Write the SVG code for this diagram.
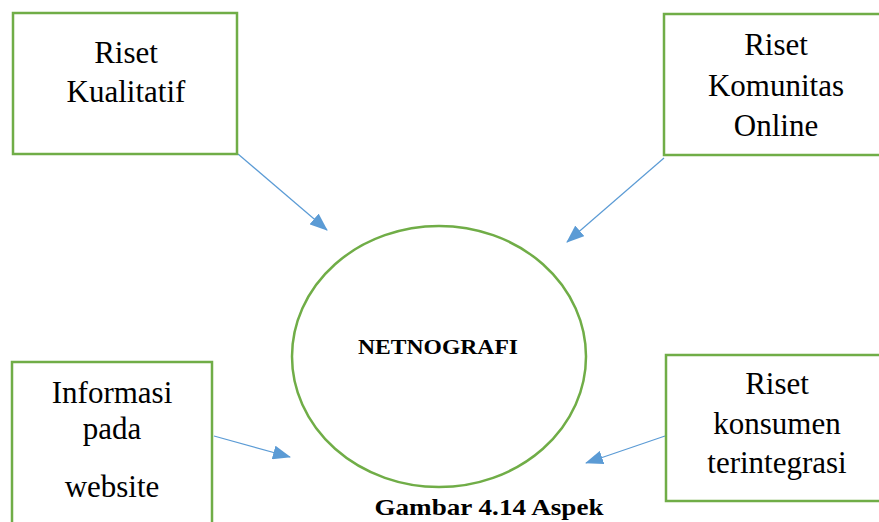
<svg xmlns="http://www.w3.org/2000/svg" width="879" height="522" viewBox="0 0 879 522">
<style>
.box{fill:#fff;stroke:#70AD47;stroke-width:2.5}
.conn{stroke:#5B9BD5;stroke-width:1.2;fill:none;marker-end:url(#ah)}
</style>
<defs>
<marker id="ah" markerUnits="userSpaceOnUse" markerWidth="18" markerHeight="14" viewBox="0 0 18 14" refX="17" refY="7" orient="auto">
<path d="M0,0 L18,7 L0,14 Z" fill="#5B9BD5"/>
</marker>
</defs>
<rect width="879" height="522" fill="#fff"/>
<g id="connectors">
<line class="conn" x1="238" y1="154" x2="327" y2="230"/>
<line class="conn" x1="664" y1="158" x2="567" y2="242"/>
<line class="conn" x1="214" y1="436" x2="290" y2="457"/>
<line class="conn" x1="665" y1="436" x2="586" y2="463"/>
</g>
<g font-family="Liberation Serif, Times New Roman, serif" font-size="31" fill="#000" text-anchor="middle">
<g id="riset-kualitatif">
<rect class="box" x="13" y="13" width="224" height="141"/>
<text x="126" y="63">Riset</text>
<text x="126" y="102">Kualitatif</text>
</g>
<g id="riset-komunitas-online">
<rect class="box" x="664" y="14" width="226" height="141"/>
<text x="776" y="55">Riset</text>
<text x="776" y="96">Komunitas</text>
<text x="776" y="136">Online</text>
</g>
<g id="informasi-website">
<rect class="box" x="12" y="362" width="200" height="180"/>
<text x="112" y="403">Informasi</text>
<text x="112" y="439">pada</text>
<text x="112" y="497">website</text>
</g>
<g id="riset-konsumen">
<rect class="box" x="666" y="355" width="224" height="146"/>
<text x="777" y="394">Riset</text>
<text x="777" y="434">konsumen</text>
<text x="777" y="473">terintegrasi</text>
</g>
<g id="netnografi">
<ellipse cx="439" cy="356.5" rx="147" ry="130.5" fill="none" stroke="#70AD47" stroke-width="2.5"/>
<text x="438" y="354" font-weight="bold" font-size="21" textLength="160" lengthAdjust="spacingAndGlyphs">NETNOGRAFI</text>
</g>
<text id="caption" x="489" y="515" font-weight="bold" font-size="23" textLength="229" lengthAdjust="spacingAndGlyphs">Gambar 4.14 Aspek</text>
</g>
</svg>
